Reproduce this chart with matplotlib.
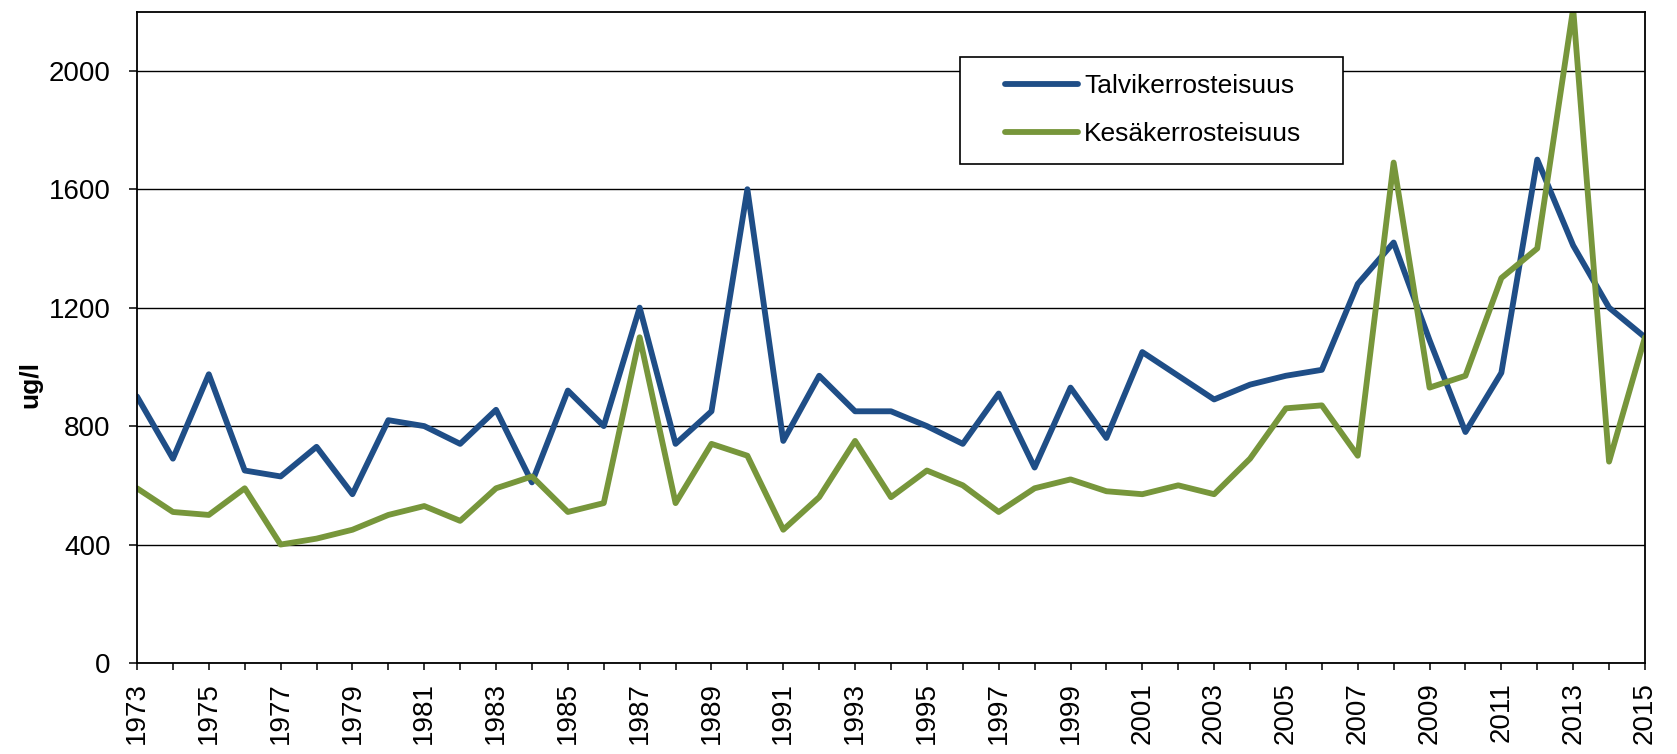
import matplotlib
matplotlib.use("Agg")
import matplotlib.pyplot as plt
from matplotlib.patches import Rectangle

plt.rcParams['font.family'] = ['Liberation Sans', 'DejaVu Sans']

years = list(range(1973, 2016))
talvi = [900, 690, 975, 650, 630, 730, 570, 820, 800, 740,
         855, 610, 920, 800, 1200, 740, 850, 1600, 750, 970,
         850, 850, 800, 740, 910, 660, 930, 760, 1050, 970,
         890, 940, 970, 990, 1280, 1420, 1090, 780, 980, 1700,
         1410, 1200, 1100]
kesa = [590, 510, 500, 590, 400, 420, 450, 500, 530, 480,
        590, 630, 510, 540, 1100, 540, 740, 700, 450, 560,
        750, 560, 650, 600, 510, 590, 620, 580, 570, 600,
        570, 690, 860, 870, 700, 1690, 930, 970, 1300, 1400,
        2210, 680, 1100]
series_names = ['Talvikerrosteisuus', 'Kesäkerrosteisuus']
colors = ['#1F4E87', '#77963B']

fig = plt.figure(figsize=(16.77, 7.54), dpi=100)
ax = fig.add_axes([0.0817, 0.1207, 0.8992, 0.864])

for vals, name, c in zip([talvi, kesa], series_names, colors):
    ax.plot(years, vals, color=c, lw=4.2, label=name,
            solid_capstyle='round', solid_joinstyle='round')

ax.set_xlim(1973, 2015)
ax.set_ylim(0, 2200)
ax.set_yticks(range(0, 2001, 400))
ax.set_xticks(years)
ax.set_xticklabels([str(y) if (y - 1973) % 2 == 0 else '' for y in years],
                   rotation=90)
ax.yaxis.grid(True, color='black', lw=1.0)
ax.set_axisbelow(True)
for s in ax.spines.values():
    s.set_linewidth(1.3)
    s.set_color('black')

ax.tick_params(axis='x', direction='out', length=5, width=1.1, pad=9,
               labelsize=20, colors='black')
ax.tick_params(axis='y', direction='out', length=6, width=1.1, pad=13,
               labelsize=20, colors='black')

ax.set_ylabel('ug/l', fontsize=19, fontweight='bold')
ax.yaxis.set_label_coords(-0.063, 0.427)

# legend frame
ax.add_patch(Rectangle((0.546, 0.766), 0.254, 0.1646, transform=ax.transAxes,
                       facecolor='white', edgecolor='black', lw=1.2, zorder=5))
leg = ax.legend(loc='center left', bbox_to_anchor=(0.5756, 0.849),
                frameon=False, fontsize=19, handlelength=2.75,
                handletextpad=0.25, labelspacing=0.9, borderpad=0,
                borderaxespad=0)
leg.set_zorder(6)

fig.savefig('out.png', dpi=100)
